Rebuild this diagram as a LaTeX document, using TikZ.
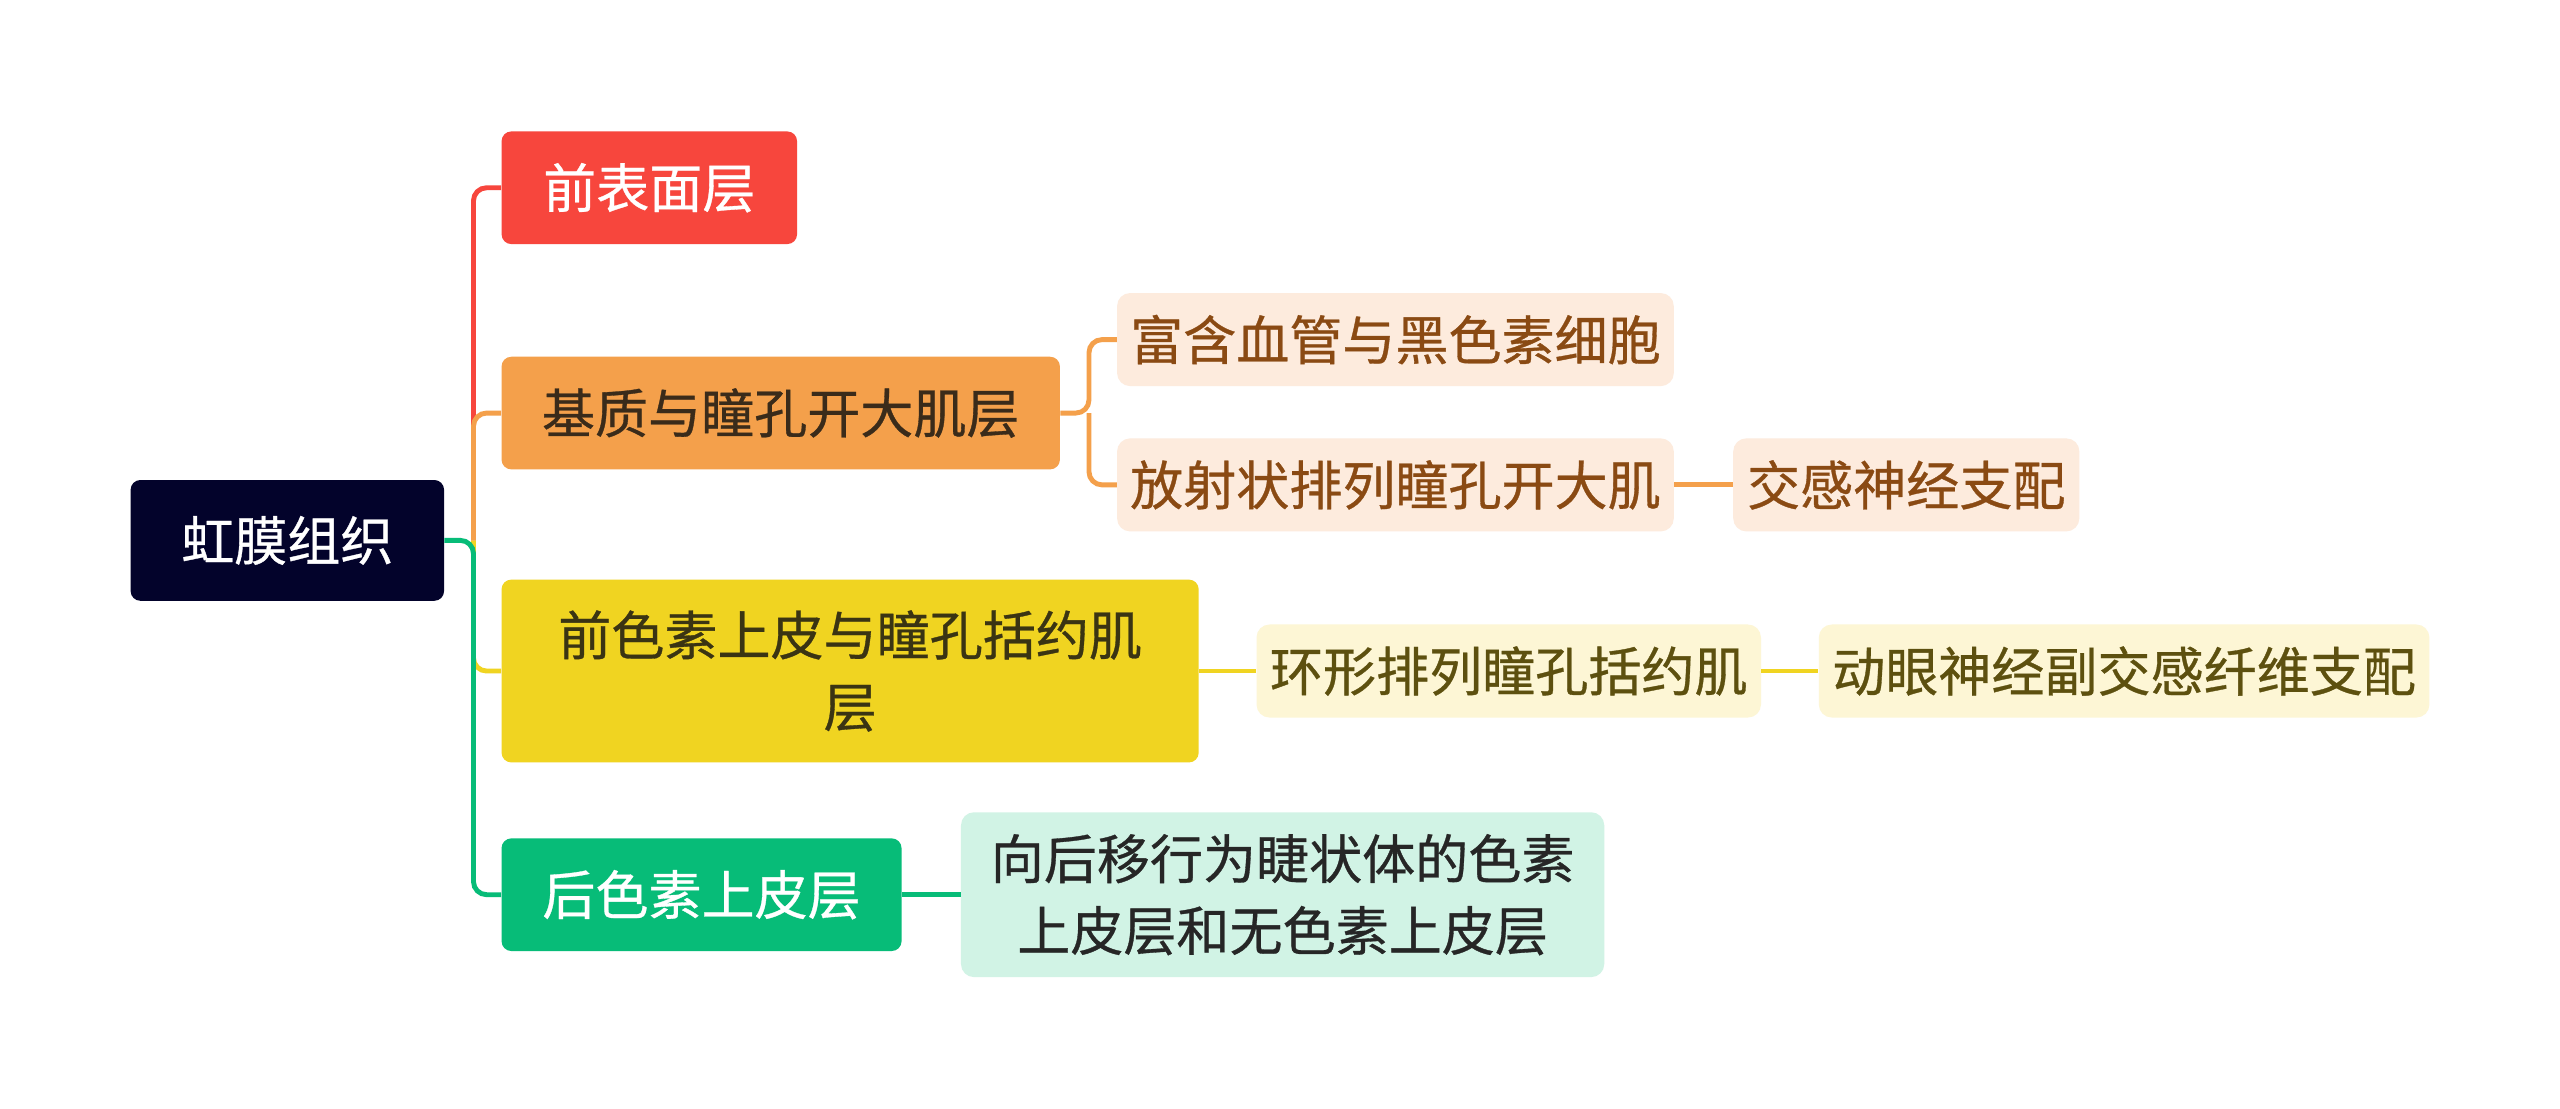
\documentclass[tikz,border=0pt]{standalone}
\usepackage{fontspec}
\setmainfont{Noto Sans CJK SC}[FakeBold=0.6]
\usetikzlibrary{positioning}

\definecolor{rootnavy}{HTML}{03032B}
\definecolor{redA}{HTML}{F7463D}
\definecolor{orangeA}{HTML}{F4A04B}
\definecolor{yellowA}{HTML}{F0D421}
\definecolor{greenA}{HTML}{07BC78}
\definecolor{peachL}{HTML}{FDEBDD}
\definecolor{yellowL}{HTML}{FDF6D5}
\definecolor{mintL}{HTML}{D1F3E5}
\definecolor{peachT}{HTML}{8A4A13}
\definecolor{oliveT}{HTML}{5D500F}
\definecolor{brownT}{HTML}{3A2B1A}
\definecolor{darkT}{HTML}{3A3413}

\begin{document}
\begin{tikzpicture}[
    x=1pt, y=-1pt,
    node distance=35pt,
    every node/.style={font=\fontsize{32.5}{44}\selectfont, inner sep=0pt, align=center},
    rootbox/.style={rectangle, fill=rootnavy, text=white, rounded corners=6pt, minimum width=192pt, minimum height=74pt},
    layer/.style={rectangle, anchor=west, rounded corners=6pt, minimum height=69pt},
    leaf/.style={rectangle, rounded corners=8pt, minimum height=57pt},
    link/.style={line width=3pt, rounded corners=8pt}
  ]
    % Canvas
    \fill[white] (0,0) rectangle (1568,679);
    \useasboundingbox (0,0) rectangle (1568,679);

    % Nodes
    \node (iris) [rootbox] at (176,331) {虹膜组织};

    \node (front) [layer, fill=redA, text=white, minimum width=181pt] at (307,115) {前表面层};
    \node (stroma) [layer, fill=orangeA, text=brownT, minimum width=342pt] at (307,253) {基质与瞳孔开大肌层};
    \node (sphinc) [layer, fill=yellowA, text=darkT, minimum width=427pt, minimum height=112pt] at (307,411) {前色素上皮与瞳孔括约肌\\层};
    \node (post) [layer, fill=greenA, text=white, minimum width=245pt] at (307,548) {后色素上皮层};

    \node (vessel) [leaf, anchor=west, fill=peachL, text=peachT, minimum width=341pt] at (684,208) {富含血管与黑色素细胞};
    \node (radial) [leaf, anchor=west, fill=peachL, text=peachT, minimum width=341pt] at (684,297) {放射状排列瞳孔开大肌};
    \node (symp) [leaf, right=36pt of radial, fill=peachL, text=peachT, minimum width=212pt] {交感神经支配};

    \node (circ) [leaf, right=35pt of sphinc, fill=yellowL, text=oliveT, minimum width=309pt] {环形排列瞳孔括约肌};
    \node (para) [leaf, right=35pt of circ, fill=yellowL, text=oliveT, minimum width=374pt] {动眼神经副交感纤维支配};

    \node (cili) [leaf, right=36pt of post, fill=mintL, text=black!85, minimum width=394pt, minimum height=101pt] {向后移行为睫状体的色素\\上皮层和无色素上皮层};

    % Connections
    \coordinate (hub) at (290,331);
    \coordinate (fork) at (667,253);
    \draw [link, redA] (hub) |- (front.west);
    \draw [link, yellowA] (hub) |- (sphinc.west);
    \draw [link, orangeA] (hub) |- (stroma.west);
    \draw [link, greenA] (iris.east) -- (hub) |- (post.west);

    \draw [link, orangeA] (stroma.east) -- (fork) |- (vessel.west);
    \draw [link, orangeA] (fork) |- (radial.west);
    \draw [link, orangeA] (radial) -- (symp);
    \draw [link, yellowA] (sphinc) -- (circ);
    \draw [link, yellowA] (circ) -- (para);
    \draw [link, greenA] (post) -- (cili);

  \end{tikzpicture}
\end{document}
